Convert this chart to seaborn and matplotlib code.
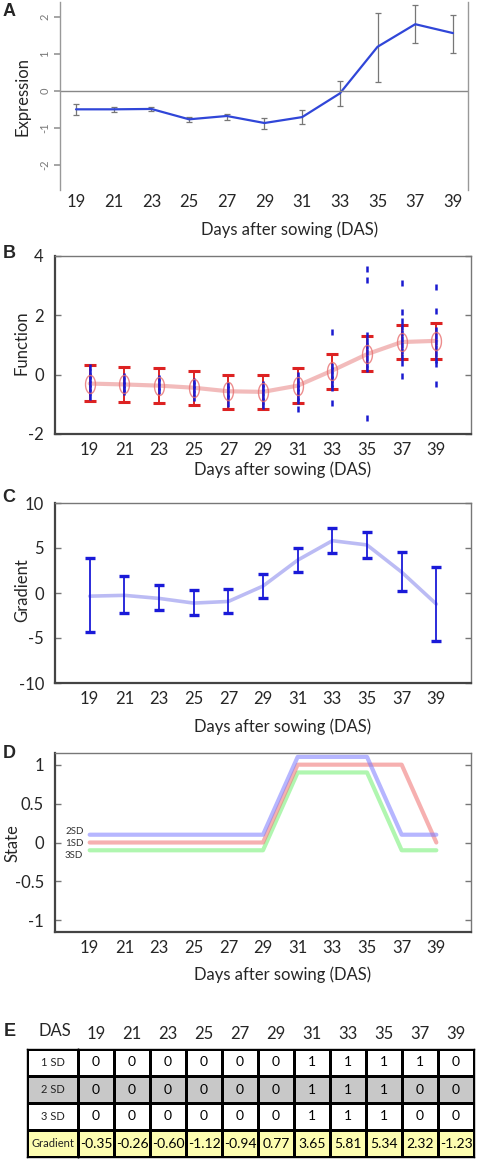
import numpy as np
import pandas as pd
import matplotlib
matplotlib.use('Agg')
import matplotlib.pyplot as plt
import seaborn as sns
from matplotlib.colors import ListedColormap

sns.set_theme(style='white')
plt.rcParams['font.family'] = ['Lato', 'DejaVu Sans']

# days after sowing
das = [19, 21, 23, 25, 27, 29, 31, 33, 35, 37, 39]

# A - expression (mean and error bar ends)
expr_mean = [-0.50, -0.50, -0.49, -0.77, -0.68, -0.87, -0.71, -0.07, 1.19, 1.80, 1.56]
expr_hi = [-0.35, -0.43, -0.45, -0.70, -0.62, -0.73, -0.53, 0.27, 2.11, 2.31, 2.06]
expr_lo = [-0.66, -0.58, -0.54, -0.85, -0.78, -1.04, -0.89, -0.41, 0.25, 1.29, 1.03]

# B - function
func_mean = [-0.30, -0.33, -0.37, -0.44, -0.56, -0.58, -0.37, 0.14, 0.69, 1.10, 1.14]
func_hi = [0.32, 0.26, 0.24, 0.12, 0.0, 0.0, 0.21, 0.71, 1.29, 1.68, 1.74]
func_lo = [-0.90, -0.92, -0.97, -1.02, -1.16, -1.17, -0.97, -0.47, 0.11, 0.52, 0.54]
func_samples = [
    [0.25, 0.1, -0.05, -0.15, -0.3, -0.45, -0.6, -0.75],
    [-0.05, -0.2, -0.35, -0.5, -0.6],
    [-0.1, -0.25, -0.4, -0.55],
    [-0.2, -0.35, -0.5, -0.65, -0.8],
    [-0.35, -0.5, -0.65, -0.8, -1.0],
    [-0.3, -0.45, -0.6, -0.75, -0.9, -1.05],
    [0.0, -0.15, -0.3, -0.45, -0.6, -0.75, -0.9, -1.15],
    [1.45, 0.3, 0.15, 0.0, -0.15, -0.3, -0.45, -0.95],
    [3.55, 3.2, 1.35, 1.15, 0.95, 0.75, 0.55, 0.35, 0.2, -1.45],
    [3.1, 2.1, 1.8, 1.6, 1.4, 1.2, 1.0, 0.8, 0.6, 0.4, -0.05],
    [2.95, 2.15, 1.5, 1.3, 1.1, 0.9, 0.7, 0.5, 0.35, -0.3],
]

# C - gradient
grad_mean = [-0.35, -0.26, -0.60, -1.12, -0.94, 0.77, 3.65, 5.81, 5.34, 2.32, -1.23]
grad_hi = [3.89, 1.89, 0.85, 0.37, 0.41, 2.11, 5.04, 7.22, 6.74, 4.52, 2.85]
grad_lo = [-4.33, -2.26, -1.93, -2.48, -2.19, -0.56, 2.37, 4.44, 3.85, 0.22, -5.30]

# D / E - states
state_1sd = [0, 0, 0, 0, 0, 0, 1, 1, 1, 1, 0]
state_2sd = [0, 0, 0, 0, 0, 0, 1, 1, 1, 0, 0]
state_3sd = [0, 0, 0, 0, 0, 0, 1, 1, 1, 0, 0]
row_labels = ['1 SD', '2 SD', '3 SD', 'Gradient']

W, H = 478, 1159
fig = plt.figure(figsize=(W / 100, H / 100), dpi=100)


def px(x0, y0, x1, y1):
    return [x0 / W, 1 - y1 / H, (x1 - x0) / W, (y1 - y0) / H]


def ftext(x, y, s, **kw):
    fig.text(x / W, 1 - y / H, s, ha=kw.pop('ha', 'center'), va=kw.pop('va', 'center'), **kw)


def matlab_axes(ax, yticks, ylabels):
    ax.set_xlim(17, 41)
    ax.set_xticks(das)
    ax.set_xticklabels(das)
    ax.tick_params(axis='x', which='major', length=0, labelsize=12, pad=6)
    ax.set_xticks([21, 25, 29, 33, 37], minor=True)
    ax.tick_params(axis='x', which='minor', direction='in', length=5, width=1,
                   top=True, bottom=True, color='#777777')
    ax.set_yticks(yticks)
    ax.set_yticklabels(ylabels)
    ax.tick_params(axis='y', direction='in', length=4, width=1, left=True, right=True,
                   color='#777777', labelsize=12, pad=8)
    for s in ['left', 'bottom']:
        ax.spines[s].set_color('#444444')
        ax.spines[s].set_linewidth(1.6)
    for s in ['top', 'right']:
        ax.spines[s].set_color('#777777')
        ax.spines[s].set_linewidth(1.0)
    ax.set_xlabel('')
    ax.set_ylabel('')


# ---------------- A ----------------
axA = fig.add_axes(px(60, 2, 468, 190))
dfA = pd.DataFrame({'das': das, 'val': expr_mean})
axA.errorbar(das, expr_mean,
             yerr=[np.array(expr_mean) - np.array(expr_lo), np.array(expr_hi) - np.array(expr_mean)],
             fmt='none', ecolor='#777777', elinewidth=0.9, capsize=2.5, capthick=0.9)
sns.lineplot(data=dfA, x='das', y='val', ax=axA, color='#3046d8', lw=1.6)
axA.axhline(0, color='#888888', lw=1)
axA.set_xlim(18.15, 39.8)
axA.set_ylim(-2.68, 2.4)
axA.set_xticks(das)
axA.set_xticklabels(das)
axA.tick_params(axis='x', length=0, labelsize=12, pad=3)
axA.set_yticks([-2, -1, 0, 1, 2])
axA.set_yticklabels(['-2', '-1', '0', '1', '2'], rotation=90, va='center')
axA.tick_params(axis='y', left=True, direction='out', length=4, color='#999999',
                labelsize=8, labelcolor='#777777', pad=3)
for s in ['top', 'bottom']:
    axA.spines[s].set_visible(False)
for s in ['left', 'right']:
    axA.spines[s].set_color('#999999')
    axA.spines[s].set_linewidth(1.0)
axA.set_xlabel('')
axA.set_ylabel('')
ftext(290, 230, 'Days after sowing (DAS)', fontsize=12)
ftext(22, 97, 'Expression', fontsize=12, rotation=90)

# ---------------- B ----------------
axB = fig.add_axes(px(55, 256, 471, 434))
samp = pd.DataFrame([(d, v) for d, vals in zip(das, func_samples) for v in vals], columns=['das', 'val'])
sns.scatterplot(data=samp, x='das', y='val', ax=axB, color='#1a1ad0', marker='|', s=16,
                linewidth=1.8, zorder=4)
axB.errorbar(das, func_mean,
             yerr=[np.array(func_mean) - np.array(func_lo), np.array(func_hi) - np.array(func_mean)],
             fmt='none', ecolor='#dd2222', elinewidth=1.4, capsize=4.5, capthick=2.2, zorder=3)
dfB = pd.DataFrame({'das': das, 'val': func_mean})
t = np.linspace(0, 2 * np.pi, 40)
ellipse = list(zip(0.55 * np.cos(t), np.sin(t)))
sns.lineplot(data=dfB, x='das', y='val', ax=axB, color='#e46a6a', lw=3, alpha=0.45, zorder=2)
axB.plot(das, func_mean, ls='none', marker=ellipse, ms=13, mfc='none', mec='#e87070',
         mew=1.0, alpha=0.8, zorder=5)
axB.set_ylim(-2, 4)
matlab_axes(axB, [-2, 0, 2, 4], ['-2', '0', '2', '4'])
ftext(283, 470, 'Days after sowing (DAS)', fontsize=12)
ftext(22, 343, 'Function', fontsize=12, rotation=90)

# ---------------- C ----------------
axC = fig.add_axes(px(55, 503, 471, 683))
dfC = pd.DataFrame({'das': das, 'val': grad_mean})
sns.lineplot(data=dfC, x='das', y='val', ax=axC, color='#6a6ae8', lw=2.6, alpha=0.45)
axC.errorbar(das, grad_mean,
             yerr=[np.array(grad_mean) - np.array(grad_lo), np.array(grad_hi) - np.array(grad_mean)],
             fmt='none', ecolor='#1a1ad8', elinewidth=1.3, capsize=3.5, capthick=2.4)
axC.set_ylim(-10, 10)
matlab_axes(axC, [-10, -5, 0, 5, 10], ['-10', '-5', '0', '5', '10'])
ftext(283, 727, 'Days after sowing (DAS)', fontsize=12)
ftext(22, 590, 'Gradient', fontsize=12, rotation=90)

# ---------------- D ----------------
axD = fig.add_axes(px(55, 753, 471, 932))
dfD = pd.DataFrame({'das': das * 3,
                    'state': [s + 0.1 for s in state_2sd] + state_1sd + [s - 0.1 for s in state_3sd],
                    'sd': ['2SD'] * 11 + ['1SD'] * 11 + ['3SD'] * 11})
sns.lineplot(data=dfD, x='das', y='state', hue='sd', ax=axD, lw=3, alpha=0.55,
             palette={'2SD': '#7a7aff', '1SD': '#f07070', '3SD': '#70f070'},
             hue_order=['3SD', '1SD', '2SD'], legend=False)
axD.set_ylim(-1.15, 1.15)
matlab_axes(axD, [-1, -0.5, 0, 0.5, 1], ['-1', '-0.5', '0', '0.5', '1'])
ftext(65, 831, '2SD', fontsize=7, ha='left', color='#333333')
ftext(65, 843, '1SD', fontsize=7, ha='left', color='#333333')
ftext(65, 856, '3SD', fontsize=7, ha='left', color='#333333')
ftext(283, 975, 'Days after sowing (DAS)', fontsize=12)
ftext(12, 843, 'State', fontsize=12, rotation=90)

# ---------------- E (table) ----------------
color_idx = np.array([[0] * 11, [1] * 11, [0] * 11, [2] * 11])
annot = np.array([[str(v) for v in state_1sd],
                  [str(v) for v in state_2sd],
                  [str(v) for v in state_3sd],
                  ['%.2f' % v for v in grad_mean]])
tab_cmap = ListedColormap(['white', '#c8c8c8', '#fdfdb0'])

axL = fig.add_axes(px(27, 1049, 78, 1157))
sns.heatmap(color_idx[:, :1], ax=axL, cmap=tab_cmap, vmin=0, vmax=2, cbar=False,
            annot=np.array(row_labels).reshape(4, 1), fmt='', linewidths=1, linecolor='black',
            annot_kws={'fontsize': 8, 'color': '#222222'}, xticklabels=False, yticklabels=False)
axV = fig.add_axes(px(78, 1049, 474, 1157))
sns.heatmap(color_idx, ax=axV, cmap=tab_cmap, vmin=0, vmax=2, cbar=False,
            annot=annot, fmt='', linewidths=1, linecolor='black',
            annot_kws={'fontsize': 10, 'color': 'black'}, xticklabels=das, yticklabels=False)
axV.xaxis.tick_top()
axV.tick_params(axis='x', length=0, labelsize=12, pad=5, rotation=0)
for a in (axL, axV):
    for s in a.spines.values():
        s.set_visible(True)
        s.set_color('black')
        s.set_linewidth(1)
ftext(55, 1031, 'DAS', fontsize=12)

# panel letters
for letter, (x, y) in zip('ABCDE', [(9, 11), (9, 253), (9, 498), (9, 753), (10, 1031)]):
    ftext(x, y, letter, fontsize=13, fontweight='bold', family='Liberation Sans')

fig.savefig('out.png', dpi=100)
